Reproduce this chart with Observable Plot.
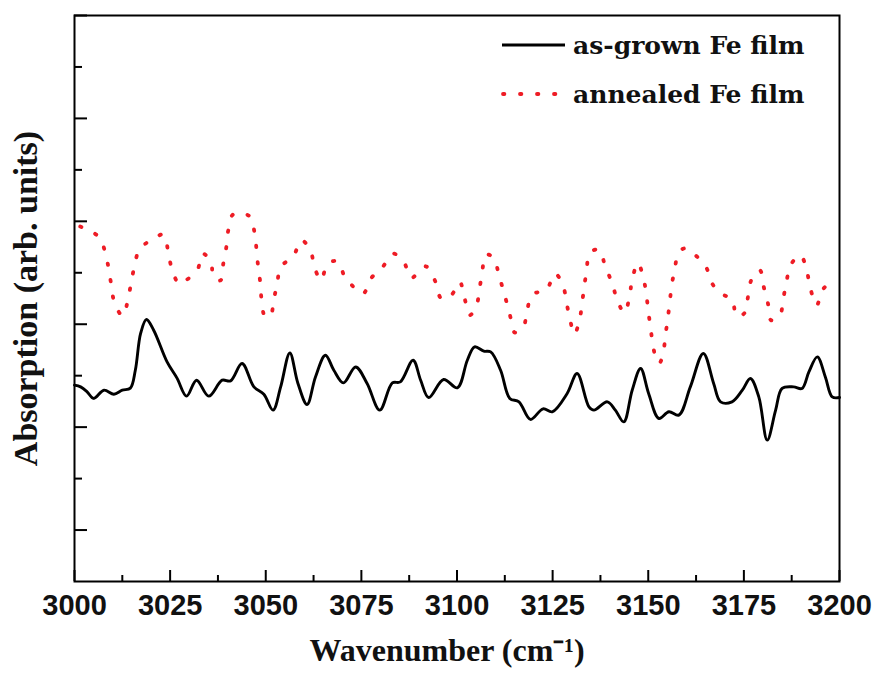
<!DOCTYPE html>
<html>
<head>
<meta charset="utf-8">
<script src="https://cdn.jsdelivr.net/npm/d3@7"></script>
<script src="https://cdn.jsdelivr.net/npm/@observablehq/plot@0.6"></script>
<style>
  body { margin: 0; background: #fff; }
  #chart { width: 874px; height: 677px; }
</style>
</head>
<body>
<div id="chart"></div>
<script>
// ---- data ----
const seriesNames = ["as-grown Fe film", "annealed Fe film"];
const xLabel = "Wavenumber (cm\u207B\u00B9)";
const yLabel = "Absorption (arb. units)";

const asGrownWavenumber = [3000, 3001.6, 3003.3, 3005.0, 3007.7, 3010.3, 3012.5, 3014.6, 3015.9, 3017.3, 3018.8, 3020.7, 3024.2, 3026.8, 3029.3, 3031.9, 3035.1, 3038.6, 3040.8, 3043.8, 3046.9, 3049.5, 3051.9, 3053.9, 3056.3, 3058.4, 3060.8, 3063.0, 3065.6, 3067.8, 3070.3, 3073.5, 3076.5, 3079.8, 3083.1, 3085.2, 3088.5, 3090.5, 3092.6, 3096.5, 3100.1, 3102.7, 3104.6, 3107.0, 3108.8, 3111.4, 3113.8, 3116.2, 3119.2, 3122.5, 3124.9, 3128.8, 3131.4, 3134.5, 3135.8, 3139.3, 3141.4, 3143.6, 3145.8, 3148.0, 3150.1, 3152.8, 3155.4, 3158.0, 3161.0, 3164.4, 3167.1, 3168.9, 3171.9, 3174.6, 3176.7, 3178.9, 3181.1, 3183.3, 3185.0, 3188.0, 3190.2, 3192.0, 3194.2, 3196.3, 3198.1, 3200];
const asGrownAbsorption = [1.408, 1.391, 1.343, 1.279, 1.359, 1.320, 1.359, 1.379, 1.553, 1.913, 2.046, 1.942, 1.634, 1.476, 1.301, 1.456, 1.301, 1.456, 1.450, 1.618, 1.391, 1.320, 1.165, 1.391, 1.721, 1.427, 1.220, 1.488, 1.699, 1.553, 1.430, 1.585, 1.424, 1.165, 1.430, 1.440, 1.650, 1.456, 1.288, 1.463, 1.382, 1.650, 1.780, 1.738, 1.731, 1.553, 1.279, 1.246, 1.075, 1.178, 1.149, 1.327, 1.521, 1.197, 1.165, 1.246, 1.165, 1.051, 1.359, 1.570, 1.327, 1.084, 1.149, 1.117, 1.391, 1.716, 1.424, 1.246, 1.246, 1.359, 1.473, 1.294, 0.874, 1.165, 1.376, 1.391, 1.376, 1.537, 1.683, 1.488, 1.294, 1.288];

const annealedWavenumber = [3001.5, 3006.4, 3008.1, 3009.0, 3009.7, 3010.5, 3012.6, 3014.0, 3014.8, 3015.7, 3017.0, 3020.7, 3023.3, 3024.5, 3025.4, 3027.3, 3028.8, 3032.1, 3033.4, 3035.6, 3036.4, 3038.2, 3038.9, 3039.7, 3040.2, 3041.5, 3045.8, 3047.1, 3047.6, 3048.0, 3048.6, 3048.9, 3049.8, 3051.2, 3052.1, 3053.0, 3053.9, 3057.2, 3059.3, 3061.7, 3062.7, 3064.5, 3066.1, 3068.7, 3070.8, 3071.7, 3075.4, 3077.6, 3080.4, 3083.3, 3086.1, 3088.0, 3091.8, 3094.4, 3095.9, 3098.5, 3100.7, 3102.0, 3103.3, 3105.1, 3105.9, 3106.6, 3107.5, 3109.6, 3110.9, 3112.1, 3113.3, 3114.4, 3115.1, 3117.3, 3118.3, 3119.7, 3123.4, 3125.6, 3127.7, 3128.6, 3129.5, 3130.7, 3132.1, 3132.7, 3133.3, 3133.9, 3134.7, 3137.1, 3138.8, 3140.6, 3141.9, 3143.8, 3145.1, 3145.8, 3147.3, 3148.7, 3149.5, 3150.0, 3150.6, 3151.2, 3152.2, 3152.9, 3153.9, 3154.5, 3155.1, 3155.6, 3156.1, 3156.9, 3158.0, 3159.7, 3161.3, 3165.0, 3166.7, 3169.1, 3171.9, 3173.1, 3175.2, 3176.1, 3177.0, 3179.2, 3180.2, 3181.3, 3182.1, 3184.4, 3185.3, 3186.1, 3187.2, 3189.8, 3191.5, 3192.4, 3194.0, 3195.7, 3198.1];
const annealedAbsorption = [2.95, 2.848, 2.686, 2.524, 2.362, 2.201, 2.081, 2.243, 2.405, 2.566, 2.728, 2.832, 2.871, 2.702, 2.547, 2.395, 2.420, 2.524, 2.686, 2.615, 2.453, 2.427, 2.589, 2.751, 2.913, 3.068, 3.049, 2.881, 2.718, 2.563, 2.395, 2.240, 2.078, 2.078, 2.240, 2.395, 2.557, 2.660, 2.816, 2.718, 2.557, 2.427, 2.583, 2.612, 2.444, 2.411, 2.297, 2.450, 2.547, 2.686, 2.605, 2.450, 2.563, 2.411, 2.250, 2.282, 2.411, 2.250, 2.087, 2.184, 2.347, 2.508, 2.677, 2.644, 2.485, 2.330, 2.168, 2.007, 1.919, 1.968, 2.129, 2.288, 2.337, 2.492, 2.379, 2.217, 2.055, 1.903, 2.055, 2.207, 2.372, 2.531, 2.692, 2.725, 2.557, 2.395, 2.233, 2.110, 2.272, 2.434, 2.595, 2.453, 2.291, 2.129, 1.968, 1.806, 1.644, 1.620, 1.721, 1.893, 2.055, 2.207, 2.369, 2.531, 2.702, 2.738, 2.702, 2.563, 2.395, 2.298, 2.240, 2.078, 2.110, 2.272, 2.434, 2.524, 2.362, 2.201, 2.039, 2.087, 2.250, 2.401, 2.573, 2.670, 2.508, 2.347, 2.184, 2.340, 2.427];

const xMajorTicks = [3000, 3025, 3050, 3075, 3100, 3125, 3150, 3175, 3200];
const xMinorTicks = [3012.5, 3037.5, 3062.5, 3087.5, 3112.5, 3137.5, 3162.5, 3187.5];
const yMajorTicks = [0, 1, 2, 3, 4, 5];
const yMinorTicks = [0.5, 1.5, 2.5, 3.5, 4.5];

// ---- build tables ----
const asGrown = asGrownWavenumber.map((w, i) => ({w, a: asGrownAbsorption[i]}));
const annealed = annealedWavenumber.map((w, i) => ({w, a: annealedAbsorption[i]}));

const W = 874, H = 677, mL = 74, mR = 35, mT = 15, mB = 96;
const innerW = W - mL - mR, innerH = H - mT - mB;
const titleFont = "'Liberation Serif', 'Times New Roman', serif";
const legendFont = "'DejaVu Serif', serif";
const tickFont = "'Liberation Sans', Arial, sans-serif";
const redColor = "#ee1c25";

const chart = Plot.plot({
  width: W, height: H,
  marginLeft: mL, marginRight: mR, marginTop: mT, marginBottom: mB,
  x: {domain: [3000, 3200], label: null},
  y: {domain: [-0.5, 5], axis: null, label: null},
  marks: [
    Plot.line(annealed, {x: "w", y: "a", stroke: redColor, strokeWidth: 3.8, strokeLinecap: "round", strokeDasharray: "1.4 15.2", curve: "catmull-rom"}),
    Plot.line(asGrown, {x: "w", y: "a", stroke: "black", strokeWidth: 2.9, curve: "catmull-rom"}),
    Plot.tickX(xMajorTicks, {x: d => d, insetTop: innerH - 11, stroke: "black", strokeWidth: 2}),
    Plot.tickX(xMinorTicks, {x: d => d, insetTop: innerH - 6, stroke: "black", strokeWidth: 2}),
    Plot.tickY(yMajorTicks, {y: d => d, insetRight: innerW - 13, stroke: "black", strokeWidth: 2}),
    Plot.tickY(yMinorTicks, {y: d => d, insetRight: innerW - 8, stroke: "black", strokeWidth: 2}),
    Plot.axisX(xMajorTicks, {tickSize: 0, tickPadding: 13, tickFormat: d => String(d), fontSize: 29, fontFamily: tickFont, fontWeight: "bold", fill: "#111", label: null, letterSpacing: -0.8}),
    Plot.frame({stroke: "black", strokeWidth: 2}),
    Plot.text([xLabel], {frameAnchor: "bottom", dy: 79, dx: -10, textAnchor: "middle", fontSize: 32, fontFamily: titleFont, fontWeight: "bold", fill: "#111"}),
    Plot.text([yLabel], {frameAnchor: "left", dx: -48, rotate: -90, textAnchor: "middle", fontSize: 34, fontFamily: titleFont, fontWeight: "bold", fill: "#111"})
  ]
});

// ---- legend inside the frame (top right) ----
const svg = d3.select(chart);
const lg = svg.append("g").attr("class", "legend").attr("text-anchor", "start");
const legendRows = [
  {name: seriesNames[0], stroke: "black", width: 2.9, dash: null, cap: "butt", y: 45},
  {name: seriesNames[1], stroke: redColor, width: 3.8, dash: "1.4 15.6", cap: "round", y: 94}
];
legendRows.forEach(r => {
  lg.append("line")
    .attr("x1", r.dash ? 503 : 502).attr("x2", r.dash ? 560 : 565)
    .attr("y1", r.y).attr("y2", r.y)
    .attr("stroke", r.stroke).attr("stroke-width", r.width)
    .attr("stroke-linecap", r.cap)
    .attr("stroke-dasharray", r.dash);
  lg.append("text")
    .attr("x", 573).attr("y", r.y + 9)
    .attr("text-anchor", "start")
    .attr("font-family", legendFont).attr("font-weight", "bold").attr("font-size", 25)
    .attr("fill", "#111")
    .text(r.name);
});

document.getElementById("chart").appendChild(chart);
</script>
</body>
</html>
